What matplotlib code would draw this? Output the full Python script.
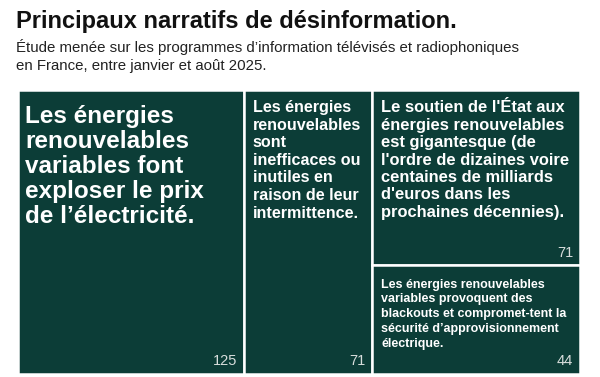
import matplotlib
matplotlib.use("Agg")
import matplotlib.pyplot as plt
from matplotlib.patches import Rectangle

plt.rcParams['font.family'] = ['Liberation Sans', 'DejaVu Sans']

# Data
labels = [
    "Les énergies\nrenouvelables\nvariables font\nexploser le prix\nde l’électricité.",
    "Les énergies\nrenouvelables\nsont\ninefficaces ou\ninutiles en\nraison de leur\nintermittence.",
    "Le soutien de l'État aux\nénergies renouvelables\nest gigantesque (de\nl'ordre de dizaines voire\ncentaines de milliards\nd'euros dans les\nprochaines décennies).",
    "Les énergies renouvelables\nvariables provoquent des\nblackouts et compromet-tent la\nsécurité d’approvisionnement\nélectrique.",
]
values = [125, 71, 71, 44]

green = '#0c3d37'
# per-box label styling: font size, line spacing, offset from top-left corner (points)
label_sizes = [17.5, 11.6, 11.9, 9]
label_spacing = [1.12, 1.21, 1.2, 1.31]
label_offsets = [(5, -10.5), (6.5, -7.5), (6.5, -7.5), (6.5, -9.5)]

fig = plt.figure(figsize=(6, 3.77), dpi=100)
W, H = 600, 377
ax = fig.add_axes([18 / W, (H - 374) / H, 562 / W, 284 / H])
total = sum(values)
ax.set_xlim(0, total)
ax.set_ylim(0, 1)
ax.axis('off')

# slice-and-dice layout: first two items are full-height columns, last two share a column
col3 = values[2] + values[3]
rects = [
    (0, 0, values[0], 1),
    (values[0], 0, values[1], 1),
    (values[0] + values[1], values[3] / col3, col3, values[2] / col3),
    (values[0] + values[1], 0, col3, values[3] / col3),
]

for i, ((x, y, w, h), lab, v) in enumerate(zip(rects, labels, values)):
    ax.add_patch(Rectangle((x, y), w, h, facecolor=green, edgecolor='white', lw=1.8))
    ax.annotate(lab, (x, y + h), xytext=label_offsets[i], textcoords='offset points',
                ha='left', va='top', color='white', fontsize=label_sizes[i],
                fontweight='bold', linespacing=label_spacing[i])
    ax.annotate(str(v), (x + w, y), xytext=(-5, 4), textcoords='offset points',
                ha='right', va='bottom', color='#d8dedc', fontsize=10.5)

fig.text(16 / W, 1 - 10 / H, "Principaux narratifs de désinformation.", ha='left', va='top',
         fontsize=17, fontweight='bold', color='#111111')
fig.text(16 / W, 1 - 39 / H, "Étude menée sur les programmes d’information télévisés et radiophoniques\nen France, entre janvier et août 2025.",
         ha='left', va='top', fontsize=10.8, color='#222222', linespacing=1.4)

fig.savefig('out.png', dpi=100)
